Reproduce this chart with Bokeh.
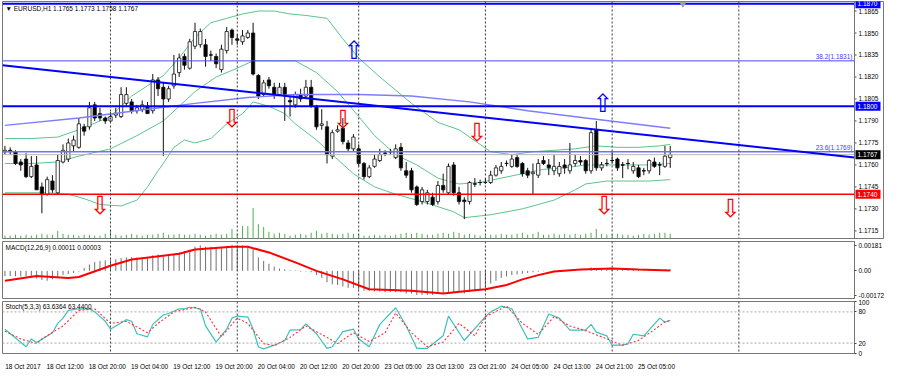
from bokeh.plotting import figure
from bokeh.models import Range1d, FixedTicker, Span, Label, ColumnDataSource
from bokeh.layouts import column
from bokeh.embed import file_html
from bokeh.resources import INLINE
from bokeh.core.properties import value

# ---------------- data (EURUSD H1) ----------------
opens = [1.1769, 1.1770, 1.1769, 1.1762, 1.1764, 1.1752, 1.1760, 1.1745, 1.1740, 1.1749,
         1.1741, 1.1762, 1.1764, 1.1773, 1.1772, 1.1786, 1.1786, 1.1801, 1.1795, 1.1792,
         1.1790, 1.1794, 1.1793, 1.1802, 1.1803, 1.1797, 1.1798, 1.1800, 1.1797, 1.1818,
         1.1813, 1.1805, 1.1814, 1.1823, 1.1834, 1.1826, 1.1841, 1.1842, 1.1842, 1.1835,
         1.1834, 1.1825, 1.1838, 1.1852, 1.1846, 1.1844, 1.1847, 1.1850, 1.1821, 1.1808,
         1.1818, 1.1813, 1.1808, 1.1813, 1.1804, 1.1801, 1.1808, 1.1807, 1.1813, 1.1800,
         1.1787, 1.1786, 1.1766, 1.1783, 1.1785, 1.1775, 1.1771, 1.1771, 1.1761, 1.1752,
         1.1759, 1.1763, 1.1768, 1.1769, 1.1765, 1.1772, 1.1756, 1.1756, 1.1745, 1.1735,
         1.1735, 1.1738, 1.1735, 1.1746, 1.1741, 1.1760, 1.1741, 1.1736, 1.1735, 1.1747,
         1.1748, 1.1748, 1.1748, 1.1753, 1.1756, 1.1761, 1.1759, 1.1765, 1.1761, 1.1756,
         1.1754, 1.1753, 1.1763, 1.1760, 1.1756, 1.1754, 1.1760, 1.1756, 1.1761, 1.1763,
         1.1763, 1.1756, 1.1784, 1.1758, 1.1761, 1.1763, 1.1764, 1.1760, 1.1761, 1.1756,
         1.1758, 1.1756, 1.1756, 1.1762, 1.1760, 1.1759, 1.1765]
highs = [1.1773, 1.1772, 1.1770, 1.1764, 1.1768, 1.1766, 1.1766, 1.1748, 1.1752, 1.1753,
         1.1767, 1.1774, 1.1778, 1.1780, 1.1792, 1.1788, 1.1803, 1.1803, 1.1799, 1.1793,
         1.1796, 1.1799, 1.1813, 1.1813, 1.1805, 1.1801, 1.1804, 1.1803, 1.1822, 1.1820,
         1.1816, 1.1814, 1.1835, 1.1836, 1.1836, 1.1846, 1.1857, 1.1853, 1.1846, 1.1838,
         1.1836, 1.1842, 1.1854, 1.1853, 1.1849, 1.1852, 1.1852, 1.1857, 1.1822, 1.1818,
         1.1820, 1.1816, 1.1816, 1.1816, 1.1807, 1.1810, 1.1812, 1.1818, 1.1818, 1.1801,
         1.1798, 1.1790, 1.1784, 1.1787, 1.1792, 1.1777, 1.1781, 1.1774, 1.1762, 1.1760,
         1.1767, 1.1771, 1.1770, 1.1771, 1.1774, 1.1775, 1.1762, 1.1758, 1.1746, 1.1745,
         1.1743, 1.1741, 1.1749, 1.1754, 1.1761, 1.1762, 1.1745, 1.1738, 1.1749, 1.1751,
         1.1750, 1.1751, 1.1756, 1.1760, 1.1762, 1.1763, 1.1767, 1.1767, 1.1762, 1.1758,
         1.1761, 1.1764, 1.1766, 1.1764, 1.1767, 1.1762, 1.1764, 1.1775, 1.1767, 1.1766,
         1.1764, 1.1785, 1.1790, 1.1762, 1.1764, 1.1769, 1.1765, 1.1762, 1.1764, 1.1762,
         1.1760, 1.1758, 1.1764, 1.1765, 1.1762, 1.1773, 1.1773]
lows = [1.1767, 1.1767, 1.1760, 1.1756, 1.1751, 1.1751, 1.1743, 1.1727, 1.1739, 1.1741,
        1.1740, 1.1761, 1.1762, 1.1769, 1.1771, 1.1780, 1.1784, 1.1790, 1.1790, 1.1788,
        1.1789, 1.1792, 1.1792, 1.1800, 1.1795, 1.1795, 1.1796, 1.1795, 1.1795, 1.1807,
        1.1766, 1.1803, 1.1812, 1.1820, 1.1825, 1.1825, 1.1839, 1.1840, 1.1827, 1.1831,
        1.1826, 1.1823, 1.1836, 1.1842, 1.1842, 1.1842, 1.1846, 1.1821, 1.1805, 1.1807,
        1.1812, 1.1805, 1.1807, 1.1790, 1.1793, 1.1799, 1.1803, 1.1805, 1.1799, 1.1784,
        1.1784, 1.1761, 1.1764, 1.1782, 1.1774, 1.1769, 1.1769, 1.1759, 1.1750, 1.1751,
        1.1758, 1.1762, 1.1766, 1.1767, 1.1764, 1.1756, 1.1751, 1.1741, 1.1732, 1.1733,
        1.1733, 1.1732, 1.1733, 1.1741, 1.1740, 1.1739, 1.1733, 1.1723, 1.1733, 1.1745,
        1.1746, 1.1747, 1.1747, 1.1752, 1.1754, 1.1759, 1.1758, 1.1758, 1.1752, 1.1751,
        1.1740, 1.1751, 1.1760, 1.1753, 1.1753, 1.1752, 1.1754, 1.1754, 1.1759, 1.1760,
        1.1754, 1.1754, 1.1756, 1.1756, 1.1759, 1.1761, 1.1756, 1.1751, 1.1757, 1.1754,
        1.1751, 1.1753, 1.1754, 1.1758, 1.1753, 1.1758, 1.1758]
closes = [1.1770, 1.1769, 1.1761, 1.1760, 1.1752, 1.1759, 1.1743, 1.1740, 1.1750, 1.1743,
          1.1763, 1.1770, 1.1775, 1.1777, 1.1788, 1.1783, 1.1799, 1.1792, 1.1792, 1.1790,
          1.1793, 1.1795, 1.1808, 1.1808, 1.1797, 1.1799, 1.1801, 1.1795, 1.1818, 1.1812,
          1.1805, 1.1812, 1.1822, 1.1833, 1.1828, 1.1844, 1.1851, 1.1851, 1.1834, 1.1835,
          1.1829, 1.1839, 1.1851, 1.1847, 1.1845, 1.1848, 1.1850, 1.1822, 1.1807, 1.1816,
          1.1814, 1.1808, 1.1813, 1.1807, 1.1803, 1.1808, 1.1805, 1.1813, 1.1800, 1.1786,
          1.1788, 1.1767, 1.1782, 1.1784, 1.1776, 1.1771, 1.1779, 1.1761, 1.1752, 1.1758,
          1.1764, 1.1767, 1.1768, 1.1769, 1.1771, 1.1758, 1.1753, 1.1743, 1.1733, 1.1743,
          1.1741, 1.1733, 1.1746, 1.1743, 1.1759, 1.1741, 1.1735, 1.1735, 1.1748, 1.1747,
          1.1748, 1.1748, 1.1753, 1.1758, 1.1759, 1.1761, 1.1764, 1.1759, 1.1754, 1.1753,
          1.1755, 1.1761, 1.1761, 1.1758, 1.1759, 1.1759, 1.1758, 1.1760, 1.1763, 1.1762,
          1.1756, 1.1782, 1.1758, 1.1760, 1.1761, 1.1763, 1.1758, 1.1760, 1.1761, 1.1759,
          1.1752, 1.1756, 1.1763, 1.1759, 1.1760, 1.1766, 1.1767]
volumes = [600, 600, 800, 600, 800, 600, 800, 1000, 800, 800, 1600,
           1000, 800, 800, 600, 800, 800, 600, 600, 1000, 1600,
           800, 600, 800, 1000, 800, 600, 800, 800, 1000, 1200,
           800, 800, 1000, 800, 800, 1000, 800, 600, 800, 1000, 800, 1000,
           2000, 1000, 2600, 2600, 6400, 3000, 2400, 1400, 1000, 1200, 1000, 600,
           800, 1000, 800, 1200, 1600, 1000, 1200, 1000, 800, 1000, 1200, 1000,
           800, 600, 600, 800, 600, 800, 600, 800, 1000, 1200, 1000, 1200, 1000, 800,
           800, 1000, 1200, 1000, 1400, 1200, 800, 1000, 800, 600, 600,
           800, 800, 1000, 800, 800, 1000, 1200, 800, 1000,
           1400, 800, 800, 1000, 800, 1000, 800, 1000, 800, 1000,
           1200, 2000,
           1000, 800, 800, 1000, 800, 800, 600, 800, 1000, 800, 1000, 1200, 1200, 1000]

# Bollinger bands (20,2) and a slow moving average, read at sample bars
bb_up_bar = [0, 5, 10, 14, 18, 20, 24, 27, 30, 33, 36, 39, 42, 45, 48, 51, 54, 57, 61, 64, 67, 71, 75, 77,
             82, 86, 90, 92, 96, 100, 104, 108, 112, 116, 120, 124, 126]
bb_up = [1.1778, 1.1778, 1.1779, 1.1784, 1.1790, 1.1793, 1.1807, 1.1814, 1.1821, 1.1833, 1.1847, 1.1857,
         1.1860, 1.1863, 1.1865, 1.1865, 1.1863, 1.1862, 1.1860, 1.1846, 1.1833, 1.1820, 1.1808, 1.1802,
         1.1789, 1.1784, 1.1774, 1.1769, 1.1767, 1.1769, 1.1770, 1.1771, 1.1773, 1.1772, 1.1772, 1.1773,
         1.1774]
bb_mid_bar = [0, 5, 10, 14, 20, 25, 30, 33, 36, 40, 44, 47, 51, 55, 59, 63, 67, 70, 74, 78, 82, 86, 90,
              94, 98, 102, 106, 110, 114, 118, 122, 126]
bb_mid = [1.1761, 1.1761, 1.1762, 1.1766, 1.1771, 1.1780, 1.1790, 1.1800, 1.1810, 1.1820, 1.1826, 1.1831,
          1.1831, 1.1831, 1.1823, 1.1810, 1.1793, 1.1780, 1.1767, 1.1760, 1.1751, 1.1747, 1.1748, 1.1751,
          1.1754, 1.1757, 1.1758, 1.1760, 1.1760, 1.1760, 1.1760, 1.1761]
bb_low_bar = [0, 8, 12, 15, 18, 22, 25, 27, 29, 30, 32, 34, 36, 39, 42, 45, 47, 50, 53, 55, 59, 62, 66,
              70, 74, 79, 85, 87, 92, 98, 104, 108, 110, 114, 118, 122, 126]
bb_low = [1.1741, 1.1741, 1.1740, 1.1737, 1.1733, 1.1732, 1.1736, 1.1745, 1.1756, 1.1761, 1.1772, 1.1777,
          1.1775, 1.1778, 1.1788, 1.1795, 1.1803, 1.1800, 1.1795, 1.1788, 1.1777, 1.1767, 1.1754, 1.1745,
          1.1740, 1.1735, 1.1728, 1.1724, 1.1726, 1.1730, 1.1736, 1.1743, 1.1747, 1.1749, 1.1749, 1.1749,
          1.1750]
ma_bar = [0, 14, 27, 36, 46, 55, 67, 77, 88, 99, 110, 126]
ma_val = [1.1787, 1.1792, 1.1798, 1.1802, 1.1806, 1.1808, 1.1808, 1.1807, 1.1803, 1.1797, 1.1792, 1.1785]

# MACD(12,26,9)
macd_main = [-0.00037, -0.00037, -0.00038, -0.0004, -0.0004, -0.00045, -0.00055, -0.00065, -0.0007, -0.0006,
             -0.00045, -0.0003, -0.00022, -0.00015, -0.00005, 0.0002, 0.00045, 0.00062, 0.0007, 0.00074,
             0.0008, 0.00082, 0.0009, 0.00095, 0.00096, 0.00095, 0.00095, 0.00095, 0.0011, 0.00115,
             0.0011, 0.00115, 0.0012, 0.0013, 0.0014, 0.0015, 0.0017, 0.0018, 0.0017, 0.0017,
             0.0016, 0.0016, 0.0017, 0.0018, 0.0018, 0.0018, 0.0017, 0.0016, 0.00095, 0.0007,
             0.0005, 0.0003, 0.00016, 0.0001, 0.00005, 0.00003, -0.00005, -0.00004, -0.0001, -0.0003,
             -0.0005, -0.0008, -0.00095, -0.001, -0.0011, -0.0012, -0.0012, -0.0013, -0.0014, -0.0014,
             -0.00145, -0.00145, -0.0015, -0.0015, -0.0015, -0.0015, -0.0016, -0.0016, -0.0017, -0.0017,
             -0.0017, -0.0017, -0.0016, -0.0016, -0.0015, -0.0015, -0.0015, -0.0016, -0.0015, -0.0014,
             -0.0013, -0.0012, -0.0009, -0.0007, -0.0005, -0.0004, -0.0003, -0.00025, -0.0002, -0.00015,
             -0.0001, -0.00006, -0.00003, -0.00002, 0.00002, 0.00003, 0.00003, 0.00004, 0.00005, 0.00004,
             0.00003, 0.00025, 0.0002, 0.00018, 0.00016, 0.00014, 0.00012, 0.0001, 0.00008, 0.00007,
             0.00005, 0.00005, 0.00006, 0.00007, 0.00008, 0.0001, 0.00011]
macd_sig_bar = [0, 6, 12, 14, 16, 20, 24, 33, 36, 43, 46, 50, 55, 59, 64, 69, 77, 83, 88, 91,
                95, 98, 101, 104, 109, 115, 120, 126]
macd_sig = [-0.0007, -0.00037, -0.0005, -0.00043, -0.00017, 0.00036, 0.0008, 0.0012, 0.0015, 0.0017,
            0.0017, 0.0013, 0.0006, 0.0, -0.0006, -0.0013, -0.0014, -0.0016, -0.0014, -0.0013,
            -0.001, -0.0006, -0.0003, -0.00004, 0.00009, 0.00016, 0.00009, 0.00003]

# Stochastic(5,3,3)
stoch_k_bar = [0, 4, 5, 6, 9, 10, 11, 12, 14, 16, 17, 19, 20, 21, 23, 24, 25, 27, 28, 30,
               31, 33, 34, 35, 37, 38, 40, 42, 43, 44, 46, 47, 48, 49, 51, 53, 54, 56, 57, 59,
               61, 62, 64, 66, 67, 69, 71, 74, 76, 78, 80, 83, 84, 87, 91, 92, 94, 96, 99, 101,
               103, 105, 107, 110, 111, 112, 114, 115, 117, 118, 119, 121, 124, 125, 126]
stoch_k = [46.7, 13, 28, 21, 40, 58, 68, 83, 86, 86, 80, 62, 47, 53, 65, 62, 38, 32, 56, 74,
           77, 86, 86, 89, 86, 53, 22, 47, 68, 72, 70, 47, 13, 9, 16, 25, 45, 46, 57, 38,
           10, 13, 42, 47, 28, 13, 56, 88, 53, 10, 10, 34, 72, 25, 71, 80, 91, 86, 28, 31,
           76, 68, 45, 45, 56, 41, 34, 16, 16, 19, 37, 34, 68, 60, 63.6364]
stoch_d_bar = [0, 3, 6, 7, 11, 14, 17, 20, 23, 27, 29, 32, 36, 38, 41, 44, 46, 49, 51, 54,
               57, 61, 63, 66, 69, 72, 74, 77, 80, 83, 86, 89, 91, 95, 98, 101, 104, 107, 110, 114,
               117, 120, 123, 125, 126]
stoch_d = [43, 28, 19, 28, 53, 83, 86, 58, 62, 40, 58, 80, 89, 80, 32, 68, 58, 19, 15, 31,
           53, 31, 19, 40, 23, 40, 78, 40, 13, 22, 58, 34, 71, 91, 58, 37, 71, 53, 44, 28,
           16, 25, 46, 61, 63.44]

# axis / objects
time_label_bar = [0, 8, 16, 24, 32, 40, 48, 56, 64, 72, 80, 88, 96, 104, 112, 120]
time_labels = ["18 Oct 2017", "18 Oct 12:00", "18 Oct 20:00", "19 Oct 04:00", "19 Oct 12:00",
               "19 Oct 20:00", "20 Oct 04:00", "20 Oct 12:00", "20 Oct 20:00", "23 Oct 05:00",
               "23 Oct 13:00", "23 Oct 21:00", "24 Oct 05:00", "24 Oct 13:00", "24 Oct 21:00",
               "25 Oct 05:00"]
day_break_bar = [20, 44, 67, 91, 115, 139]
price_ticks = [1.1715, 1.1730, 1.1745, 1.1760, 1.1775, 1.1790, 1.1805, 1.1820, 1.1835, 1.1850, 1.1865]
hline_levels = [1.1870, 1.1800, 1.1740]
hline_colors = ["#0000ff", "#0000ff", "#ff0000"]
hline_widths = [2, 2, 1.5]
fib_levels = [1.1831, 1.1769]
fib_names = ["38.2", "23.6"]
bid_price = 1.1767
trend_bar = [-0.46, 160.9]
trend_price = [1.1828, 1.1765]
down_arrow_bar = [18, 43, 64, 89.4, 113.5, 137.4]
down_arrow_price = [1.1732, 1.1792, 1.1791, 1.1782, 1.1732, 1.1730]
up_arrow_bar = [66.1, 113.2]
up_arrow_price = [1.1838, 1.1802]
shift_marker_bar = [128.4]
macd_ticks = [-0.00172, 0.0, 0.00181]
macd_tick_text = ["-0.00172", "0.00", "0.00181"]
stoch_ticks = [0, 20, 80, 100]
stoch_levels = [20, 80]

# ---------------- layout ----------------
FONT = "Liberation Sans"
FS = "6.5px"
FW = 852          # width of the bar area
RB = 30           # width of the price scale
X0, X1 = -0.46, 160.9
PXB = FW / (X1 - X0)  # pixels per bar
xr = Range1d(X0, X1)
Y0, Y1 = 1.17098, 1.18715
GRID = "#777777"


def style_axis(ax):
    ax.axis_line_color = GRID
    ax.major_tick_line_color = "#444444"
    ax.major_tick_out = 2
    ax.major_tick_in = 0
    ax.minor_tick_line_color = None
    ax.major_label_standoff = 2
    ax.major_label_text_font = FONT
    ax.major_label_text_font_size = FS
    ax.major_label_text_color = "black"


def base_fig(frame_w, frame_h, x_range, yr, top_b, bot_b, right_b, yloc, xloc):
    p = figure(frame_width=frame_w, frame_height=frame_h, x_range=x_range, y_range=yr,
               min_border_left=2, min_border_right=right_b, min_border_top=top_b,
               min_border_bottom=bot_b, toolbar_location=None, output_backend="svg",
               y_axis_location=yloc, x_axis_location=xloc, tools="")
    p.background_fill_color = "white"
    p.border_fill_color = "white"
    p.outline_line_color = GRID
    p.outline_line_width = 1
    p.grid.visible = False
    for d in day_break_bar:
        p.add_layout(Span(location=d, dimension="height", line_color="#3a3a3a",
                          line_dash="2 2", line_width=1))
    return p


# ---- main price pane (price scale drawn inside its own frame so the tags fit) ----
p1 = base_fig(FW + RB, 237, Range1d(X0, X1 + RB / PXB), Range1d(Y0, Y1), 1, 1, 0, None, None)

n = len(closes)
bars = list(range(n))
p1.extra_y_ranges = {"vol": Range1d(0, 49600)}
p1.segment(x0=bars, y0=[0] * n, x1=bars, y1=volumes, y_range_name="vol",
           line_color="#4fb04f", line_width=1)

for bx, by in ((bb_up_bar, bb_up), (bb_mid_bar, bb_mid), (bb_low_bar, bb_low)):
    p1.line(bx, by, line_color="#5cc58a", line_width=1)

src = ColumnDataSource(dict(
    x=bars, h=highs, l=lows,
    top=[max(o, c) for o, c in zip(opens, closes)],
    bot=[min(o, c) for o, c in zip(opens, closes)],
    fill=["white" if c >= o else "black" for o, c in zip(opens, closes)]))
p1.segment(x0="x", y0="h", x1="x", y1="l", source=src, line_color="#111111", line_width=1)
p1.vbar(x="x", width=0.62, top="top", bottom="bot", source=src, fill_color="fill",
        line_color="#111111", line_width=0.8)
doji = [i for i in bars if opens[i] == closes[i]]
p1.segment(x0=[i - 0.31 for i in doji], y0=[closes[i] for i in doji],
           x1=[i + 0.31 for i in doji], y1=[closes[i] for i in doji],
           line_color="#111111", line_width=1)

p1.line(ma_bar, ma_val, line_color="#7d7dff", line_width=1.4)

# horizontal objects stop at the price scale
p1.segment(x0=[X0] * 3, y0=hline_levels, x1=[X1] * 3, y1=hline_levels,
           line_color=hline_colors, line_width=hline_widths)
p1.segment(x0=[X0] * 2, y0=fib_levels, x1=[X1] * 2, y1=fib_levels,
           line_color=["#4a4aff", "#7070ff"], line_width=[1, 1.3])
p1.segment(x0=[X0], y0=[bid_price], x1=[X1], y1=[bid_price], line_color="#b8b8b8", line_width=1)
p1.line(trend_bar, trend_price, line_color="#0000ff", line_width=2)

p1.text(x=down_arrow_bar, y=down_arrow_price, text=["\u21e9"] * len(down_arrow_bar),
        text_color="#ff0000", text_font=value("DejaVu Sans"), text_font_size="25px",
        text_align="center", text_baseline="middle")
p1.text(x=up_arrow_bar, y=up_arrow_price, text=["\u21e7"] * len(up_arrow_bar),
        text_color="#0000ff", text_font=value("DejaVu Sans"), text_font_size="25px",
        text_align="center", text_baseline="middle")
p1.scatter(x=shift_marker_bar, y=[hline_levels[0]], marker="inverted_triangle", size=6,
           fill_color="#a0a0a0", line_color="#a0a0a0")

for lvl, name in zip(fib_levels, fib_names):
    p1.add_layout(Label(x=X1, y=lvl, x_offset=-2, y_offset=1, text="%s(%.4f)" % (name, lvl),
                        text_align="right", text_baseline="bottom", text_font=FONT,
                        text_font_size=FS, text_color="#4040ff"))

# price scale: axis line, ticks, labels
p1.add_layout(Span(location=X1, dimension="height", line_color=GRID, line_width=1))
k = len(price_ticks)
p1.segment(x0=[X1] * k, y0=price_ticks, x1=[X1 + 2 / PXB] * k, y1=price_ticks,
           line_color="#444444", line_width=1)
p1.text(x=[X1] * k, y=price_ticks, text=["%.4f" % t for t in price_ticks], x_offset=4,
        text_align="left", text_baseline="middle", text_font=value(FONT),
        text_font_size=FS, text_color="black")

# price tags of the horizontal lines and of the last price
tag_levels = [hline_levels[0], hline_levels[1], bid_price, hline_levels[2]]
tag_colors = ["#0000ff", "#0000ff", "#000000", "#ff0000"]
m = len(tag_levels)
p1.rect(x=[X1 + 13.5 / PXB] * m, y=tag_levels, width=25, height=9, width_units="screen",
        height_units="screen", fill_color=tag_colors, line_color=None)
p1.text(x=[X1] * m, y=tag_levels, text=["%.4f" % t for t in tag_levels], x_offset=3,
        text_align="left", text_baseline="middle", text_font=value(FONT),
        text_font_size=FS, text_color="white")

o, h, l, c = opens[-1], highs[-1], lows[-1], closes[-1]
p1.add_layout(Label(x=X0, y=Y1, x_offset=3, y_offset=-7,
                    text="\u25bc EURUSD,H1  %.4f %.4f %.4f %.4f" % (o, h, l, c),
                    text_baseline="middle", text_font=FONT, text_font_size=FS,
                    text_color="black"))

# ---- MACD pane ----
p2 = base_fig(FW, 57, xr, Range1d(-0.00195, 0.00207), 2, 1, RB, "right", None)
style_axis(p2.yaxis[0])
p2.yaxis[0].ticker = FixedTicker(ticks=macd_ticks)
p2.yaxis[0].major_label_overrides = {t: s for t, s in zip(macd_ticks, macd_tick_text)}
p2.segment(x0=bars, y0=[0] * n, x1=bars, y1=macd_main, line_color="#707070", line_width=1)
p2.line(macd_sig_bar, macd_sig, line_color="#ff0000", line_width=2)
p2.add_layout(Label(x=X0, y=0.00207, x_offset=3, y_offset=-6,
                    text="MACD(12,26,9) %.5f %.5f" % (macd_main[-1], macd_sig[-1]),
                    text_baseline="middle", text_font=FONT, text_font_size=FS,
                    text_color="black"))

# ---- Stochastic pane ----
p3 = base_fig(FW, 52, xr, Range1d(0, 100), 2, 14, RB, "right", "below")
style_axis(p3.yaxis[0])
p3.yaxis[0].ticker = FixedTicker(ticks=stoch_ticks)
for lv in stoch_levels:
    p3.add_layout(Span(location=lv, dimension="width", line_color="#a8a8a8",
                       line_dash="2 2", line_width=1))
p3.line(stoch_k_bar, stoch_k, line_color="#3cc0c0", line_width=1.2)
p3.line(stoch_d_bar, stoch_d, line_color="#ff3030", line_width=1.1, line_dash="2 2")
p3.add_layout(Label(x=X0, y=100, x_offset=3, y_offset=-5,
                    text="Stoch(5,3,3) %.4f %.4f" % (stoch_k[-1], stoch_d[-1]),
                    text_baseline="middle", text_font=FONT, text_font_size=FS,
                    text_color="black"))
xa = p3.xaxis[0]
shift = 3.4
xa.ticker = FixedTicker(ticks=[b + shift for b in time_label_bar])
xa.major_label_overrides = {b + shift: t for b, t in zip(time_label_bar, time_labels)}
xa.major_tick_line_color = None
xa.minor_tick_line_color = None
xa.axis_line_color = None
xa.major_label_standoff = 3
xa.major_label_text_font = FONT
xa.major_label_text_font_size = FS
xa.major_label_text_color = "black"

layout = column(p1, p2, p3, spacing=0)
open("out.html", "w").write(file_html(layout, INLINE))
